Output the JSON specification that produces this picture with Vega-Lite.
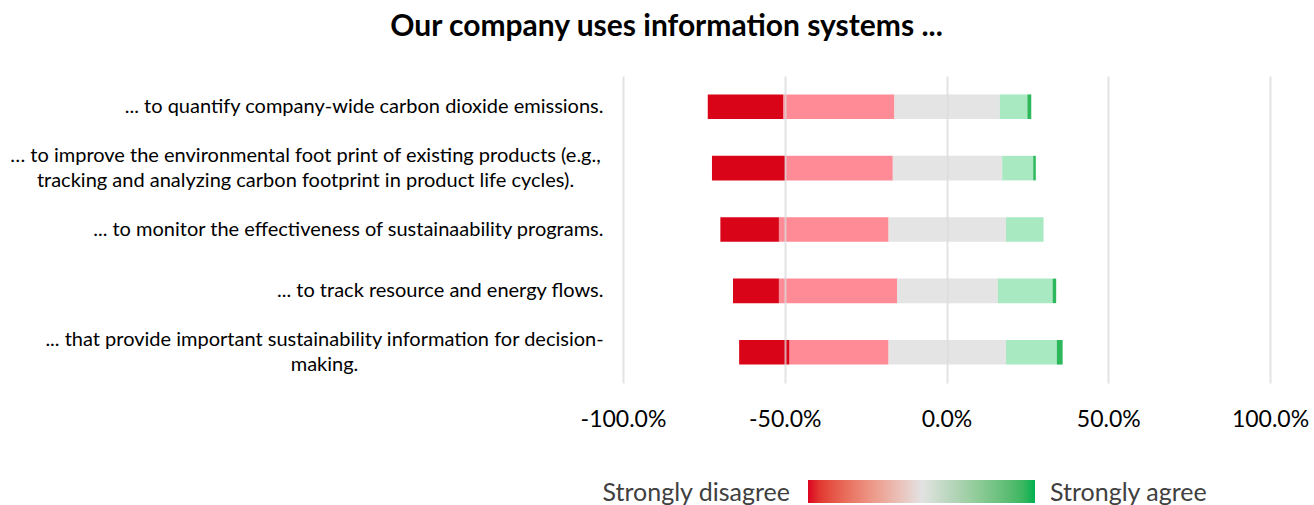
{
  "$schema": "https://vega.github.io/schema/vega-lite/v6.json",
  "autosize": {"type": "none"},
  "padding": {"left": 623, "top": 76, "right": 44, "bottom": 122},
  "width": 647,
  "height": 307,
  "background": "white",
  "title": {
    "text": "Our company uses information systems ...",
    "font": "Lato",
    "fontSize": 30,
    "fontWeight": "bold",
    "color": "#000000",
    "anchor": "middle",
    "frame": "group",
    "dx": -280,
    "offset": 34
  },
  "data": {
    "values": [
      {"question": "... to quantify company-wide carbon dioxide emissions.", "response": "Strongly disagree", "pct": -23.4, "rank": 2, "score": 1},
      {"question": "... to quantify company-wide carbon dioxide emissions.", "response": "Disagree", "pct": -34.3, "rank": 1, "score": 2},
      {"question": "... to quantify company-wide carbon dioxide emissions.", "response": "Neutral", "pct": -16.1, "rank": 0, "score": 3},
      {"question": "... to quantify company-wide carbon dioxide emissions.", "response": "Neutral", "pct": 16.5, "rank": 0, "score": 3},
      {"question": "... to quantify company-wide carbon dioxide emissions.", "response": "Agree", "pct": 8.5, "rank": 1, "score": 4},
      {"question": "... to quantify company-wide carbon dioxide emissions.", "response": "Strongly agree", "pct": 1.2, "rank": 2, "score": 5},
      {"question": "… to improve the environmental foot print of existing products (e.g.,\ntracking and analyzing carbon footprint in product life cycles).", "response": "Strongly disagree", "pct": -22.7, "rank": 2, "score": 1},
      {"question": "… to improve the environmental foot print of existing products (e.g.,\ntracking and analyzing carbon footprint in product life cycles).", "response": "Disagree", "pct": -33.2, "rank": 1, "score": 2},
      {"question": "… to improve the environmental foot print of existing products (e.g.,\ntracking and analyzing carbon footprint in product life cycles).", "response": "Neutral", "pct": -16.6, "rank": 0, "score": 3},
      {"question": "… to improve the environmental foot print of existing products (e.g.,\ntracking and analyzing carbon footprint in product life cycles).", "response": "Neutral", "pct": 17.2, "rank": 0, "score": 3},
      {"question": "… to improve the environmental foot print of existing products (e.g.,\ntracking and analyzing carbon footprint in product life cycles).", "response": "Agree", "pct": 9.6, "rank": 1, "score": 4},
      {"question": "… to improve the environmental foot print of existing products (e.g.,\ntracking and analyzing carbon footprint in product life cycles).", "response": "Strongly agree", "pct": 0.8, "rank": 2, "score": 5},
      {"question": "... to monitor the effectiveness of sustainaability programs.", "response": "Strongly disagree", "pct": -18.1, "rank": 2, "score": 1},
      {"question": "... to monitor the effectiveness of sustainaability programs.", "response": "Disagree", "pct": -33.9, "rank": 1, "score": 2},
      {"question": "... to monitor the effectiveness of sustainaability programs.", "response": "Neutral", "pct": -17.9, "rank": 0, "score": 3},
      {"question": "... to monitor the effectiveness of sustainaability programs.", "response": "Neutral", "pct": 18.4, "rank": 0, "score": 3},
      {"question": "... to monitor the effectiveness of sustainaability programs.", "response": "Agree", "pct": 11.6, "rank": 1, "score": 4},
      {"question": "... to track resource and energy flows.", "response": "Strongly disagree", "pct": -14.2, "rank": 2, "score": 1},
      {"question": "... to track resource and energy flows.", "response": "Disagree", "pct": -36.5, "rank": 1, "score": 2},
      {"question": "... to track resource and energy flows.", "response": "Neutral", "pct": -15.3, "rank": 0, "score": 3},
      {"question": "... to track resource and energy flows.", "response": "Neutral", "pct": 15.9, "rank": 0, "score": 3},
      {"question": "... to track resource and energy flows.", "response": "Agree", "pct": 16.9, "rank": 1, "score": 4},
      {"question": "... to track resource and energy flows.", "response": "Strongly agree", "pct": 1.1, "rank": 2, "score": 5},
      {"question": "... that provide important sustainability information for decision-\nmaking.", "response": "Strongly disagree", "pct": -15.6, "rank": 2, "score": 1},
      {"question": "... that provide important sustainability information for decision-\nmaking.", "response": "Disagree", "pct": -30.6, "rank": 1, "score": 2},
      {"question": "... that provide important sustainability information for decision-\nmaking.", "response": "Neutral", "pct": -17.9, "rank": 0, "score": 3},
      {"question": "... that provide important sustainability information for decision-\nmaking.", "response": "Neutral", "pct": 18.4, "rank": 0, "score": 3},
      {"question": "... that provide important sustainability information for decision-\nmaking.", "response": "Agree", "pct": 15.7, "rank": 1, "score": 4},
      {"question": "... that provide important sustainability information for decision-\nmaking.", "response": "Strongly agree", "pct": 1.8, "rank": 2, "score": 5}
    ]
  },
  "mark": {"type": "bar", "strokeWidth": 0},
  "encoding": {
    "y": {
      "field": "question",
      "type": "nominal",
      "sort": null,
      "scale": {"paddingInner": 0.6, "paddingOuter": 0.3},
      "axis": {
        "title": null,
        "domain": false,
        "ticks": false,
        "tickSize": 0,
        "grid": false,
        "labelFont": "Lato",
        "labelFontSize": 20,
        "labelColor": "#000000",
        "labelLimit": 0,
        "labelLineHeight": 25.5,
        "labelBaseline": "middle",
        "labelExpr": "split(datum.label, '\\n')",
        "labelAlign": {
          "condition": {"test": "indexof(datum.value, '\\n') >= 0", "value": "center"},
          "value": "right"
        },
        "labelOffset": {
          "condition": {"test": "indexof(datum.value, '\\n') >= 0", "value": -12.5},
          "value": 0
        },
        "labelPadding": {
          "condition": [
            {"test": "indexof(datum.value, 'e.g.') >= 0", "value": 318},
            {"test": "indexof(datum.value, 'decision') >= 0", "value": 299}
          ],
          "value": 20
        }
      }
    },
    "x": {
      "field": "pct",
      "type": "quantitative",
      "stack": "zero",
      "scale": {"domain": [-100, 100], "nice": false},
      "axis": {
        "title": null,
        "values": [-100, -50, 0, 50, 100],
        "labelExpr": "(datum.value < 0 ? '-' : '') + format(abs(datum.value) / 100, '.1%')",
        "domain": false,
        "ticks": false,
        "tickSize": 0,
        "grid": true,
        "gridColor": "#d9d9d9",
        "gridWidth": 2,
        "gridOpacity": 0.75,
        "labelFont": "Lato",
        "labelFontSize": 23,
        "labelColor": "#000000",
        "labelPadding": 25,
        "labelFlush": false,
        "zindex": 1
      }
    },
    "order": {"field": "rank", "type": "quantitative", "sort": "ascending"},
    "fill": {
      "field": "response",
      "type": "nominal",
      "scale": {
        "domain": ["Strongly disagree", "Disagree", "Neutral", "Agree", "Strongly agree"],
        "range": ["#DA0418", "#FF8B96", "#E4E4E4", "#A8E9C2", "#2DB85C"]
      },
      "legend": null
    },
    "stroke": {
      "field": "score",
      "type": "quantitative",
      "scale": {"domain": [1, 3, 5], "range": ["#DC0420", "#E2E2E2", "#00B050"]},
      "legend": {
        "orient": "none",
        "legendX": 185,
        "legendY": 404,
        "direction": "horizontal",
        "title": null,
        "padding": 0,
        "gradientLength": 227,
        "gradientThickness": 23,
        "gradientStrokeWidth": 0,
        "values": [1, 5],
        "labelOverlap": false,
        "labelExpr": "datum.value == 1 ? 'Strongly disagree' : 'Strongly agree'",
        "labelFont": "Lato",
        "labelFontSize": 25,
        "labelColor": "#404040",
        "labelLimit": 0,
        "encoding": {
          "labels": {
            "x": {"value": {"expr": "datum.perc < 0.5 ? -18 : 242"}},
            "y": {"value": 12.5},
            "align": {"value": {"expr": "datum.perc < 0.5 ? 'right' : 'left'"}},
            "baseline": {"value": "middle"}
          }
        }
      }
    }
  },
  "config": {
    "view": {"stroke": null}
  }
}
